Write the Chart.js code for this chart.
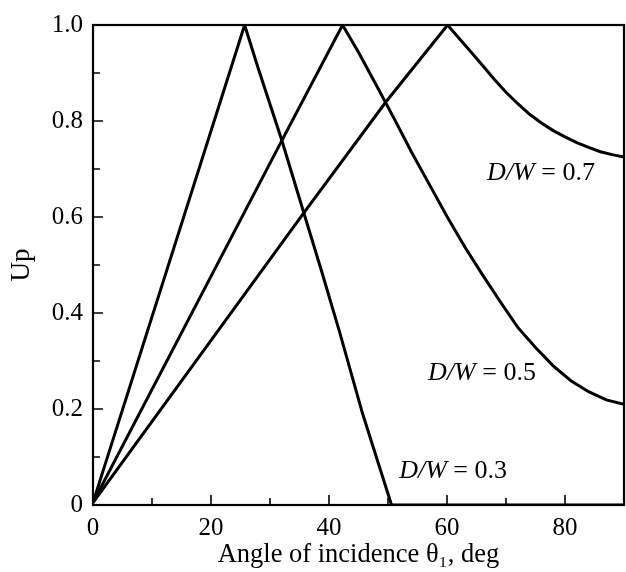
<!DOCTYPE html>
<html>
<head>
<meta charset="utf-8">
<script src="https://cdn.jsdelivr.net/npm/chart.js@4/dist/chart.umd.min.js"></script>
<style>
html,body{margin:0;padding:0;background:#fff;}
#wrap{width:626px;height:572px;}
</style>
</head>
<body>
<div id="wrap"><canvas id="upChart"></canvas></div>
<script>
// Up vs angle of incidence, one curve per D/W ratio
const dw03X=[0,25.7,28,32,35.7,38.8,41.8,45.7,50.6,90];
const dw03Y=[0.005,1.0,0.91,0.76,0.61,0.485,0.36,0.19,0,0];
const dw05X=[0,32,42.3,45,48,51,54,57,60,63,66,69,72,75,78,81,84,87,90];
const dw05Y=[0.005,0.759,1.0,0.943,0.875,0.806,0.735,0.668,0.601,0.538,0.48,0.424,0.37,0.328,0.29,0.259,0.236,0.219,0.21];
const dw07X=[0,35.7,49.6,55,60.1,62,64,66,68,70,72,74,76,78,80,82,84,86,88,90];
const dw07Y=[0.005,0.608,0.839,0.922,1.0,0.973,0.945,0.916,0.887,0.86,0.836,0.814,0.796,0.78,0.767,0.755,0.745,0.736,0.73,0.725];
const curveLabels=['0.3','0.5','0.7'];
const labelAt=[[51.9,0.07],[56.8,0.274],[66.8,0.691]];
const xMajor=[0,20,40,60,80],xMinor=[10,30,50,70];
const yMajor=[0,0.2,0.4,0.6,0.8,1.0],yMinor=[0.1,0.3,0.5,0.7,0.9];

const FONT='"Liberation Serif","Times New Roman",serif';
const pts=(xs,ys)=>xs.map((x,i)=>({x,y:ys[i]}));
const line=data=>({data,borderColor:'#000',borderWidth:3,pointRadius:0,tension:0,showLine:true,fill:false});

const framePlugin={
  id:'frame',
  afterDatasetsDraw(chart){
    const {ctx,chartArea:a,scales:{x,y}}=chart;
    ctx.save();
    ctx.strokeStyle='#000';
    ctx.lineWidth=2.2;
    ctx.strokeRect(a.left,a.top,a.right-a.left,a.bottom-a.top);
    ctx.beginPath();
    xMajor.forEach(v=>{const p=x.getPixelForValue(v);ctx.moveTo(p,a.bottom);ctx.lineTo(p,a.bottom-10);});
    xMinor.forEach(v=>{const p=x.getPixelForValue(v);ctx.moveTo(p,a.bottom);ctx.lineTo(p,a.bottom-7);});
    yMajor.forEach(v=>{const p=y.getPixelForValue(v);ctx.moveTo(a.left,p);ctx.lineTo(a.left+10,p);});
    yMinor.forEach(v=>{const p=y.getPixelForValue(v);ctx.moveTo(a.left,p);ctx.lineTo(a.left+7,p);});
    ctx.lineWidth=1.6;
    ctx.stroke();
    // curve labels: italic D/W then upright "= value"
    ctx.fillStyle='#000';
    ctx.textBaseline='middle';
    labelAt.forEach(([lx,ly],i)=>{
      let px=x.getPixelForValue(lx);const py=y.getPixelForValue(ly);
      ctx.font='italic 26px '+FONT;
      ctx.fillText('D/W',px,py);
      px+=ctx.measureText('D/W').width;
      ctx.font='26px '+FONT;
      ctx.fillText(' = '+curveLabels[i],px,py);
    });
    ctx.restore();
  }
};

new Chart(document.getElementById('upChart'),{
  type:'scatter',
  data:{datasets:[line(pts(dw03X,dw03Y)),line(pts(dw05X,dw05Y)),line(pts(dw07X,dw07Y))]},
  options:{
    responsive:true,maintainAspectRatio:false,animation:false,
    layout:{padding:{top:20,right:2,left:0,bottom:0}},
    plugins:{legend:{display:false},tooltip:{enabled:false}},
    scales:{
      x:{type:'linear',min:0,max:90,
        afterFit:s=>{s.height=67;},
        grid:{display:false,drawTicks:false},border:{display:false},
        ticks:{stepSize:20,includeBounds:false,padding:8,color:'#000',font:{family:FONT,size:25},maxRotation:0,callback:v=>String(v)},
        title:{display:true,text:'Angle of incidence θ₁, deg',color:'#000',font:{family:FONT,size:26.5},padding:{top:0,bottom:1}}},
      y:{type:'linear',min:0,max:1,
        afterFit:s=>{s.width=93;},
        grid:{display:false,drawTicks:false},border:{display:false},
        ticks:{stepSize:0.2,padding:10,color:'#000',font:{family:FONT,size:25},callback:v=>v===0?'0':v.toFixed(1)},
        title:{display:true,text:'Up',color:'#000',font:{family:FONT,size:27},padding:{top:6,bottom:0}}}
    }
  },
  plugins:[framePlugin]
});
</script>
</body>
</html>
